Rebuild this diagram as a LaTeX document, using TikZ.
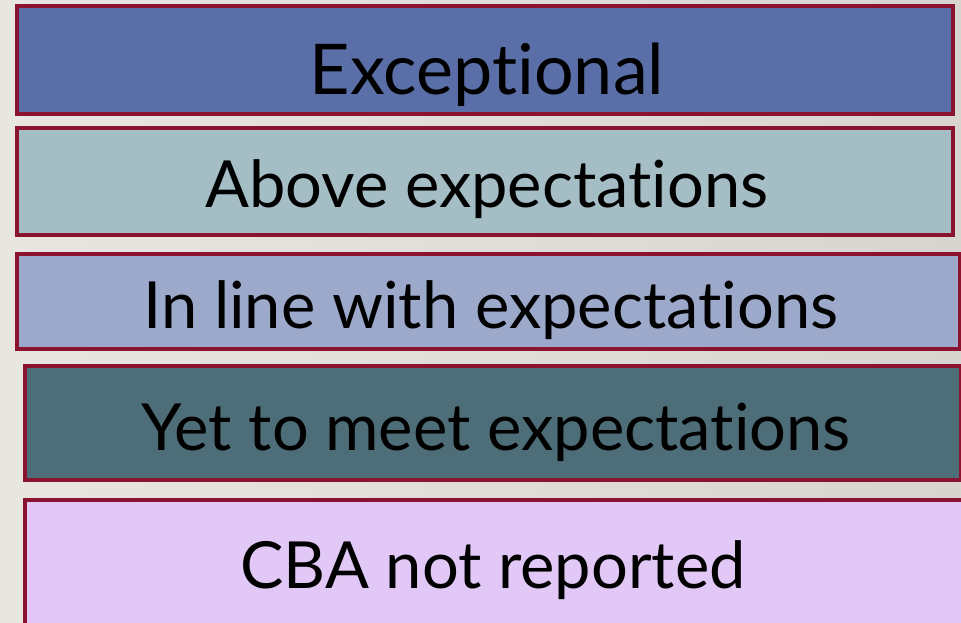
\documentclass[tikz,border=0pt]{standalone}
\usepackage{fontspec}
\setmainfont[Ligatures=NoCommon]{Lato}
\usetikzlibrary{positioning}
\definecolor{rim}{RGB}{138,20,48}
\definecolor{bgleft}{RGB}{232,230,225}
\definecolor{bgright}{RGB}{216,213,208}
\definecolor{tierone}{RGB}{90,111,168}
\definecolor{tiertwo}{RGB}{165,190,197}
\definecolor{tierthree}{RGB}{156,169,203}
\definecolor{tierfour}{RGB}{77,110,120}
\definecolor{tierfive}{RGB}{226,200,246}
\tikzset{
	tierbox/.style={draw=rim,line width=4pt,rectangle,inner sep=0pt,outer sep=0pt},
	tiertext/.style={anchor=base,inner sep=0pt,text=black,font=\fontsize{65}{70}\selectfont},
}

\begin{document}
\begin{tikzpicture}[x=1pt,y=-1pt]
					% background.....................
					\useasboundingbox (0,0) rectangle (961,622);
					\shade [left color=bgleft, right color=bgright] (0,0) rectangle (961,622);
					
					% boxes.....................
					\node [tierbox, fill=tierone, minimum width=936pt, minimum height=108pt] (exc) at (485,60) {};
					\node [tierbox, fill=tiertwo, minimum width=936pt, minimum height=107pt] (above) at (485,181.5) {};
					\node [tierbox, fill=tierthree, minimum width=943pt, minimum height=95pt] (inline) at (488.5,301.5) {};
					\node [tierbox, fill=tierfour, minimum width=936pt, minimum height=114pt] (yet) at (493,423) {};
					\node [tierbox, fill=tierfive, minimum width=938pt, minimum height=140pt] (cba) at (494,570) {};
					
					% labels..............................
					\node [tiertext, font=\fontsize{70}{74}\selectfont] (exctext) at (487,94) {Exceptional};
					\node [tiertext] (abovetext) at (487,207) {Above expectations};
					\node [tiertext] (inlinetext) at (491,328) {In line with expectations};
					\node [tiertext] (yettext) at (496,450) {Yet to meet expectations};
					\node [tiertext] (cbatext) at (493,588) {CBA not reported};
\end{tikzpicture}
\end{document}
